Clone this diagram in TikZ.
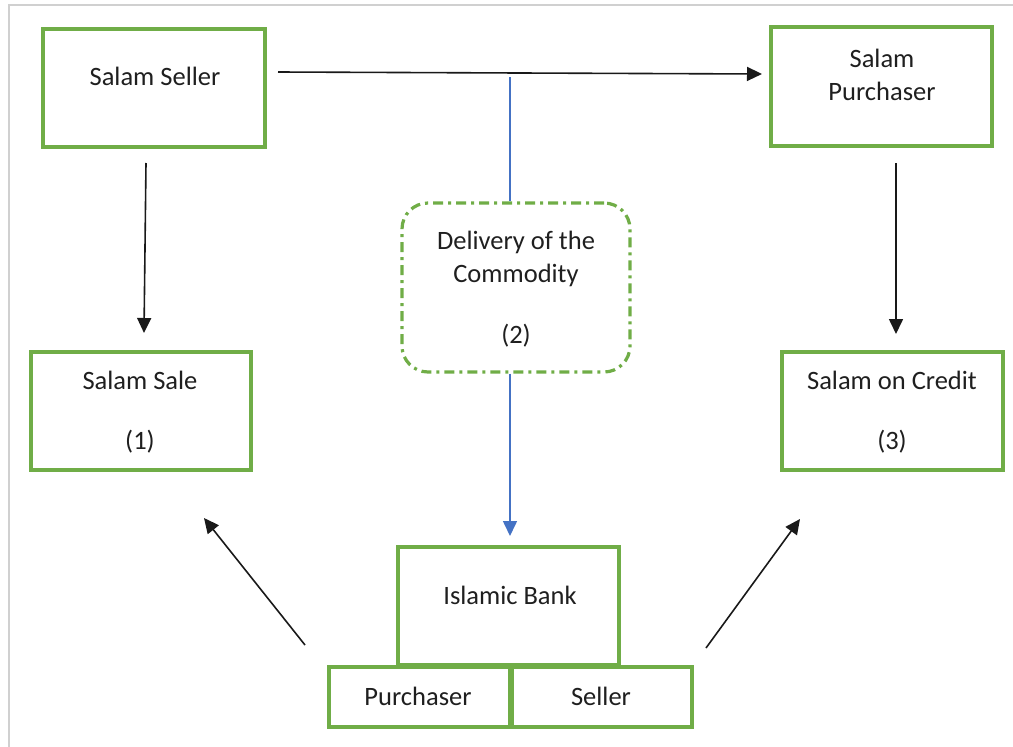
\documentclass[tikz,border=0pt]{standalone}
\usepackage{fontspec}
\setmainfont{Carlito}
\usetikzlibrary{arrows.meta}
\definecolor{boxgreen}{HTML}{70AD47}
\definecolor{lineblue}{HTML}{4472C4}
\definecolor{framegray}{HTML}{D0D0D0}
\begin{document}
\begin{tikzpicture}[x=1pt,y=-1pt,
  greenbox/.style={draw=boxgreen,line width=3.2pt,inner sep=0pt,fill=white},
  lbl/.style={font=\fontsize{26.5}{33.5}\selectfont,text=black!88,inner sep=0pt,align=center},
  blk/.style={draw=black!90,line width=1.6pt,-{Triangle[length=15pt,width=14pt]}},
  blu/.style={draw=lineblue,line width=1.6pt},
  dashbox/.style={draw=boxgreen,line width=3.2pt,rounded corners=26pt,
    dash pattern=on 10pt off 5pt on 3pt off 5pt}]
\useasboundingbox (0,0) rectangle (1013,747);
% frame
\draw[framegray,line width=2pt] (9,747) -- (9,5) -- (1013,5);
% boxes
\node[greenbox,minimum width=222pt,minimum height=118pt] (seller) at (154,88) {};
\node[greenbox,minimum width=221pt,minimum height=119pt] (purch) at (881.5,86.5) {};
\node[greenbox,minimum width=220pt,minimum height=118pt] (sale) at (141,411) {};
\node[greenbox,minimum width=221pt,minimum height=118pt] (credit) at (892.5,411) {};
\node[greenbox,minimum width=221pt,minimum height=118pt] (bank) at (508.5,606) {};
\node[greenbox,minimum width=181pt,minimum height=60pt] (bpurch) at (419.5,697) {};
\node[greenbox,minimum width=180pt,minimum height=60pt] (bseller) at (602,697) {};
\node[dashbox,minimum width=228pt,minimum height=169pt] (deliv) at (516,287.5) {};
% texts
\node[lbl] (t-seller) at (155,76) {Salam Seller};
\node[lbl] (t-purch) at (882,75) {Salam\\Purchaser};
\node[lbl] (t-sale) at (140,412) {Salam Sale\\[27pt](1)};
\node[lbl] (t-credit) at (892,412) {Salam on Credit\\[27pt](3)};
\node[lbl] (t-deliv) at (516,289) {Delivery of the\\Commodity\\[27pt](2)};
\node[lbl] (t-bank) at (510,595) {Islamic Bank};
\node[lbl] (t-bpurch) at (418,696) {Purchaser};
\node[lbl] (t-bseller) at (601,696) {Seller};
% connector ends
\coordinate (a1s) at (278,72);
\coordinate (a1e) at (762,74);
\coordinate (a2s) at (146,163);
\coordinate (a2e) at (144,333);
\coordinate (a3s) at (896,163);
\coordinate (a3e) at (896,334);
\coordinate (a4s) at (305,645);
\coordinate (a4e) at (204,518);
\coordinate (a5s) at (706,648);
\coordinate (a5e) at (800,519);
\coordinate (b1s) at (510,77);
\coordinate (b2e) at (510,536);
% connectors
\draw[blk] (a1s) -- (a1e);
\draw[blk] (a2s) -- (a2e);
\draw[blk] (a3s) -- (a3e);
\draw[blk] (a4s) -- (a4e);
\draw[blk] (a5s) -- (a5e);
\draw[blu] (b1s) -- (b1s |- deliv.north);
\draw[blu,-{Triangle[length=15pt,width=14pt]}] (b2e |- deliv.south) -- (b2e);
\end{tikzpicture}
\end{document}
